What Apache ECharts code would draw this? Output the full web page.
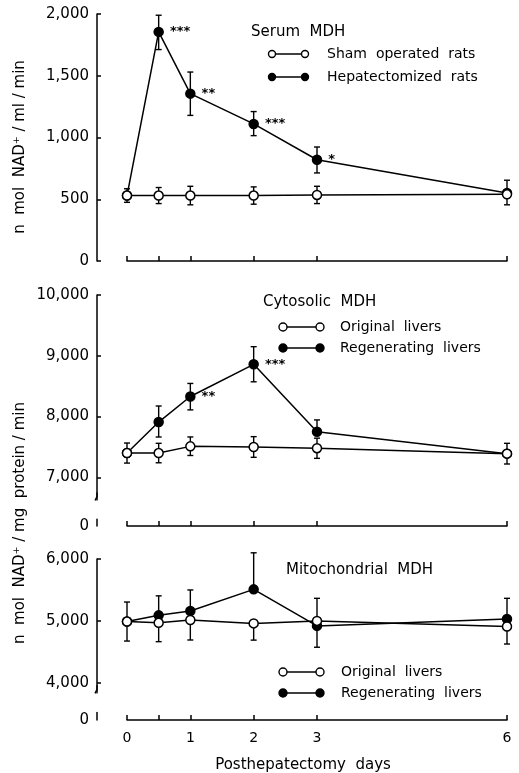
<!DOCTYPE html>
<html>
<head>
<meta charset="utf-8">
<script src="https://cdn.jsdelivr.net/npm/echarts@6/dist/echarts.min.js"></script>
<style>
  html, body { margin: 0; padding: 0; background: #fff; }
  #chart { width: 519px; height: 773px; }
</style>
</head>
<body>
<div id="chart"></div>
<script>
  // days after operation
  let days = [0, 0.5, 1, 2, 3, 6];
  let tickDays = [0, 0.5, 1, 2, 3, 6];
  let labelDays = [0, 1, 2, 3, 6];

  // serum MDH
  let serumSham = [530, 530, 530, 530, 535, 540];
  let serumShamUp = [55, 65, 75, 70, 70, 0];
  let serumShamDown = [55, 65, 75, 70, 70, 0];
  let serumHep = [530, 1855, 1355, 1110, 820, 550];
  let serumHepUp = [0, 135, 175, 100, 103, 104];
  let serumHepDown = [0, 143, 176, 95, 107, 95];
  let serumStars = ['', '***', '**', '***', '*', ''];
  let serumTicks = [0, 500, 1000, 1500, 2000];

  // cytosolic MDH
  let cytoOrig = [7400, 7400, 7510, 7500, 7480, 7390];
  let cytoOrigUp = [165, 160, 155, 170, 165, 170];
  let cytoOrigDown = [165, 160, 150, 170, 167, 170];
  let cytoRegen = [7400, 7910, 8330, 8860, 7750, 7390];
  let cytoRegenUp = [0, 264, 215, 290, 195, 0];
  let cytoRegenDown = [0, 246, 220, 288, 0, 0];
  let cytoStars = ['', '', '**', '***', '', ''];
  let cytoTicks = [7000, 8000, 9000, 10000];

  // mitochondrial MDH
  let mitoOrig = [4990, 4970, 5015, 4960, 5000, 4910];
  let mitoOrigUp = [315, 0, 0, 0, 365, 0];
  let mitoOrigDown = [315, 305, 323, 270, 0, 283];
  let mitoRegen = [4990, 5090, 5160, 5510, 4920, 5030];
  let mitoRegenUp = [0, 315, 340, 590, 0, 335];
  let mitoRegenDown = [0, 0, 0, 0, 345, 0];
  let mitoTicks = [4000, 5000, 6000];

  let font = 'DejaVu Sans';

  function pairs(vals) {
    return days.map((d, i) => [d, vals[i]]);
  }

  function errBars(idx, vals, up, down) {
    return {
      type: 'custom',
      xAxisIndex: idx,
      yAxisIndex: idx,
      z: 1,
      silent: true,
      data: days.map((d, i) => [d, vals[i], vals[i] + up[i], vals[i] - down[i], up[i], down[i]]),
      renderItem: function (params, api) {
        let hi = api.coord([api.value(0), api.value(2)]);
        let lo = api.coord([api.value(0), api.value(3)]);
        let kids = [];
        let st = { stroke: '#000', lineWidth: 1.4 };
        kids.push({ type: 'line', shape: { x1: hi[0], y1: hi[1], x2: lo[0], y2: lo[1] }, style: st });
        if (api.value(4) > 0) kids.push({ type: 'line', shape: { x1: hi[0] - 3, y1: hi[1], x2: hi[0] + 3, y2: hi[1] }, style: st });
        if (api.value(5) > 0) kids.push({ type: 'line', shape: { x1: lo[0] - 3, y1: lo[1], x2: lo[0] + 3, y2: lo[1] }, style: st });
        return { type: 'group', children: kids };
      }
    };
  }

  function lineSeries(idx, vals, filled, stars) {
    let s = {
      type: 'line',
      xAxisIndex: idx,
      yAxisIndex: idx,
      z: filled ? 3 : 4,
      symbol: 'circle',
      symbolSize: 9,
      showSymbol: true,
      lineStyle: { color: '#000', width: 1.5 },
      itemStyle: { color: filled ? '#000' : '#fff', borderColor: '#000', borderWidth: 1.5 },
      data: pairs(vals)
    };
    if (stars) {
      s.label = {
        show: true,
        position: 'right',
        distance: 6,
        color: '#000',
        fontFamily: font,
        fontSize: 13,
        fontWeight: 'bold',
        formatter: p => stars[p.dataIndex]
      };
    }
    return s;
  }

  function xAxis(idx, showLabels) {
    return {
      type: 'value',
      gridIndex: idx,
      min: 0,
      max: 6,
      axisLine: { onZero: false, lineStyle: { color: '#000', width: 1.5 } },
      axisTick: { inside: true, length: 5, customValues: tickDays, lineStyle: { color: '#000', width: 1.5 } },
      axisLabel: { show: showLabels, customValues: labelDays, margin: 11, color: '#000', fontFamily: font, fontSize: 14 },
      splitLine: { show: false }
    };
  }

  function yAxis(idx, min, max, ticks, zeroAt) {
    let labels = zeroAt == null ? ticks : [zeroAt].concat(ticks);
    return {
      type: 'value',
      gridIndex: idx,
      min: min,
      max: max,
      offset: 30,
      axisLine: { show: true, onZero: false, lineStyle: { color: '#000', width: 1.5 } },
      axisTick: { show: true, inside: true, length: 4, customValues: ticks, lineStyle: { color: '#000', width: 1.5 } },
      axisLabel: {
        customValues: labels,
        margin: 8,
        color: '#000',
        fontFamily: font,
        fontSize: 15,
        formatter: v => (v === zeroAt ? '0' : v.toLocaleString('en-US'))
      },
      splitLine: { show: false }
    };
  }

  function legendRow(x1, x2, y, r, filled, text, tx) {
    let st = { fill: filled ? '#000' : '#fff', stroke: '#000', lineWidth: 1.4 };
    return [
      { type: 'line', shape: { x1: x1, y1: y, x2: x2, y2: y }, style: { stroke: '#000', lineWidth: 1.5 } },
      { type: 'circle', shape: { cx: x1, cy: y, r: r }, style: st },
      { type: 'circle', shape: { cx: x2, cy: y, r: r }, style: st },
      { type: 'text', x: tx, y: y, style: { text: text, fill: '#000', font: '14px ' + font, verticalAlign: 'middle' } }
    ];
  }

  function label(x, y, text) {
    return { type: 'text', x: x, y: y, style: { text: text, fill: '#000', font: '15px ' + font, verticalAlign: 'middle' } };
  }

  let chartDom = document.getElementById('chart');
  let myChart = echarts.init(chartDom);
  let option = {
    animation: false,
    backgroundColor: '#fff',
    grid: [
      { left: 127, right: 12, top: 14, height: 247 },
      { left: 127, right: 12, top: 295, height: 231 },
      { left: 127, right: 12, top: 559, height: 161 }
    ],
    xAxis: [xAxis(0, false), xAxis(1, false), xAxis(2, true)],
    yAxis: [
      yAxis(0, 0, 2000, serumTicks, null),
      yAxis(1, 6200, 10000, cytoTicks, 6200),
      yAxis(2, 3400, 6000, mitoTicks, 3400)
    ],
    series: [
      errBars(0, serumHep, serumHepUp, serumHepDown),
      errBars(0, serumSham, serumShamUp, serumShamDown),
      lineSeries(0, serumHep, true, serumStars),
      lineSeries(0, serumSham, false),
      errBars(1, cytoRegen, cytoRegenUp, cytoRegenDown),
      errBars(1, cytoOrig, cytoOrigUp, cytoOrigDown),
      lineSeries(1, cytoRegen, true, cytoStars),
      lineSeries(1, cytoOrig, false),
      errBars(2, mitoRegen, mitoRegenUp, mitoRegenDown),
      errBars(2, mitoOrig, mitoOrigUp, mitoOrigDown),
      lineSeries(2, mitoRegen, true),
      lineSeries(2, mitoOrig, false)
    ]
  };
  myChart.setOption(option);

  // axis breaks, titles and legends
  let axisX = 97;
  let b1 = myChart.convertToPixel({ yAxisIndex: 1 }, 6620);
  let b2 = myChart.convertToPixel({ yAxisIndex: 1 }, 6320);
  let b3 = myChart.convertToPixel({ yAxisIndex: 2 }, 3830);
  let b4 = myChart.convertToPixel({ yAxisIndex: 2 }, 3530);
  let hook = { stroke: '#000', lineWidth: 1.4 };

  let elements = [
    { type: 'rect', shape: { x: axisX - 4, y: b1, width: 8, height: b2 - b1 }, style: { fill: '#fff' }, z: 100 },
    { type: 'rect', shape: { x: axisX - 4, y: b3, width: 8, height: b4 - b3 }, style: { fill: '#fff' }, z: 100 },
    { type: 'polyline', shape: { points: [[axisX, b1 - 8], [axisX, b1 - 4], [axisX - 2, b1]] }, style: hook, z: 101 },
    { type: 'polyline', shape: { points: [[axisX, b3 - 8], [axisX, b3 - 4], [axisX - 2, b3]] }, style: hook, z: 101 },
    label(251, 32, 'Serum  MDH'),
    label(263, 302, 'Cytosolic  MDH'),
    label(286, 570, 'Mitochondrial  MDH'),
    { type: 'text', x: 303, y: 765, style: { text: 'Posthepatectomy  days', fill: '#000', font: '15px ' + font, align: 'center', verticalAlign: 'middle' } },
    { type: 'text', x: 20, y: 147, rotation: Math.PI / 2, style: { text: 'n  mol  NAD\u207a / ml / min', fill: '#000', font: '15px ' + font, align: 'center', verticalAlign: 'middle' } },
    { type: 'text', x: 20, y: 523, rotation: Math.PI / 2, style: { text: 'n  mol  NAD\u207a / mg  protein / min', fill: '#000', font: '15px ' + font, align: 'center', verticalAlign: 'middle' } }
  ];
  elements = elements
    .concat(legendRow(272, 305, 54, 3.5, false, 'Sham  operated  rats', 327))
    .concat(legendRow(272, 305, 77, 3.5, true, 'Hepatectomized  rats', 327))
    .concat(legendRow(283, 320, 327, 4, false, 'Original  livers', 340))
    .concat(legendRow(283, 320, 348, 4, true, 'Regenerating  livers', 340))
    .concat(legendRow(283, 320, 672, 4, false, 'Original  livers', 341))
    .concat(legendRow(283, 320, 693, 4, true, 'Regenerating  livers', 341));

  myChart.setOption({ graphic: { elements: elements } });
</script>
</body>
</html>
